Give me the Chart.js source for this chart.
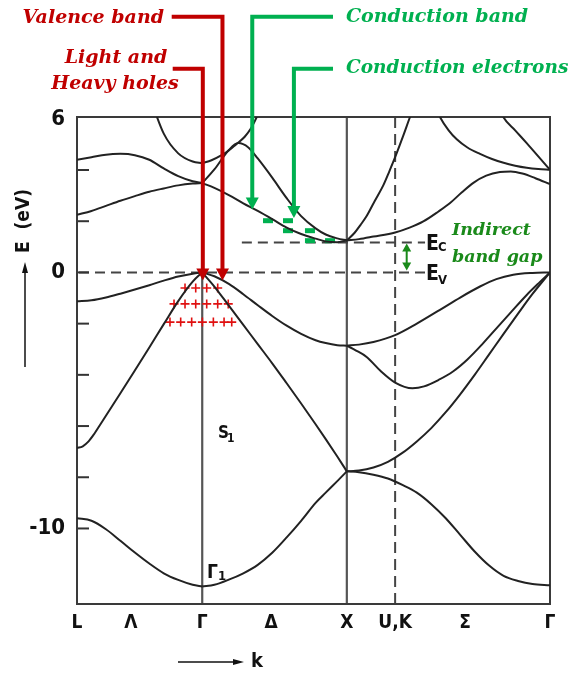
<!DOCTYPE html>
<html>
<head>
<meta charset="utf-8">
<script src="https://cdn.jsdelivr.net/npm/chart.js@4/dist/chart.umd.min.js"></script>
<style>
  html, body { margin: 0; padding: 0; background: #fff; }
  canvas { display: block; }
</style>
</head>
<body>
<canvas id="bands" width="569" height="676"></canvas>
<script>
// ---- k path (units of 2π/a) and axis labels ----
const kSymPoints   = [0, 0.866, 1.866, 2.2, 3.271];          // L, Γ, X, U/K, Γ
const kTickValues  = [0, 0.373, 0.866, 1.342, 1.866, 2.2, 2.683, 3.271];
const kTickLabels  = ['L', 'Λ', 'Γ', 'Δ', 'X', 'U,K', 'Σ', 'Γ'];
const eTickValues  = [6, 0, -10];
const eTickLabels  = ['6', '0', '-10'];
const eMinorTicks  = [4, 2, 0, -2, -4, -6, -8, -10];
const eValenceTop  = 0;      // E_V (eV)
const eCondBottom  = 1.17;   // E_C (eV)

// ---- bands along L → Γ (Λ) : [k, E] ----
const lambdaBand1 = [[0,-9.6],[0.1,-9.7],[0.2,-10.03],[0.3,-10.48],[0.4,-10.94],[0.5,-11.37],[0.6,-11.75],[0.7,-12.01],[0.8,-12.2],[0.866,-12.27]];
const lambdaBand2 = [[0,-6.86],[0.04,-6.79],[0.08,-6.6],[0.12,-6.3],[0.16,-5.95],[0.2,-5.6],[0.3,-4.72],[0.4,-3.83],[0.5,-2.93],[0.6,-2.02],[0.7,-1.12],[0.8,-0.36],[0.866,0]];
const lambdaBand3 = [[0,-1.13],[0.1,-1.09],[0.2,-0.98],[0.3,-0.83],[0.4,-0.67],[0.5,-0.5],[0.6,-0.32],[0.7,-0.16],[0.8,-0.05],[0.866,0]];
const lambdaBand4 = [[0,2.25],[0.1,2.4],[0.2,2.6],[0.3,2.8],[0.4,2.98],[0.5,3.15],[0.6,3.28],[0.7,3.4],[0.8,3.47],[0.866,3.49]];
const lambdaBand5 = [[0,4.4],[0.1,4.5],[0.2,4.6],[0.3,4.63],[0.4,4.58],[0.5,4.4],[0.6,4.06],[0.7,3.76],[0.8,3.56],[0.866,3.49]];
const lambdaBand6 = [[0.5,6.9],[0.6,5.42],[0.7,4.65],[0.8,4.33],[0.866,4.27]];

// ---- bands along Γ → X (Δ) ----
const deltaBand1 = [[0.866,-12.27],[0.95,-12.2],[1.05,-12.0],[1.15,-11.75],[1.25,-11.42],[1.35,-10.95],[1.45,-10.35],[1.55,-9.7],[1.65,-9.0],[1.72,-8.6],[1.8,-8.15],[1.866,-7.77]];
const deltaBand2 = [[0.866,0],[0.95,-0.55],[1.05,-1.3],[1.15,-2.05],[1.25,-2.8],[1.35,-3.55],[1.45,-4.33],[1.55,-5.12],[1.65,-5.93],[1.72,-6.51],[1.8,-7.19],[1.866,-7.77]];
const deltaBand3 = [[0.866,0],[0.95,-0.15],[1.05,-0.45],[1.15,-0.85],[1.25,-1.28],[1.35,-1.7],[1.45,-2.08],[1.55,-2.4],[1.65,-2.65],[1.72,-2.76],[1.8,-2.84],[1.866,-2.86]];
const deltaBand4 = [[0.866,3.49],[0.95,3.3],[1.05,3.02],[1.15,2.7],[1.25,2.4],[1.35,2.08],[1.45,1.75],[1.55,1.5],[1.65,1.32],[1.72,1.21],[1.8,1.18],[1.866,1.25]];
const deltaBand5 = [[0.866,3.49],[0.95,4.02],[1.05,4.78],[1.115,5.05],[1.185,4.88],[1.25,4.45],[1.35,3.7],[1.45,2.9],[1.55,2.2],[1.65,1.72],[1.72,1.48],[1.8,1.33],[1.866,1.25]];
const deltaBand6 = [[0.866,4.27],[0.93,4.38],[1.0,4.58],[1.05,4.76],[1.1,5.0],[1.16,5.3],[1.2,5.6],[1.243,6.07],[1.29,6.7]];

// ---- bands along X → U,K → Γ (Σ) ----
const sigmaBand1 = [[1.866,-7.77],[1.95,-7.8],[2.05,-7.9],[2.15,-8.05],[2.25,-8.3],[2.35,-8.6],[2.45,-9.05],[2.55,-9.6],[2.65,-10.25],[2.75,-10.9],[2.85,-11.45],[2.95,-11.85],[3.05,-12.05],[3.15,-12.17],[3.271,-12.22]];
const sigmaBand2 = [[1.866,-7.77],[1.95,-7.74],[2.05,-7.62],[2.15,-7.4],[2.25,-7.05],[2.35,-6.6],[2.45,-6.08],[2.55,-5.46],[2.65,-4.76],[2.75,-4.0],[2.85,-3.2],[2.95,-2.4],[3.05,-1.61],[3.15,-0.84],[3.271,0]];
const sigmaBand3 = [[1.866,-2.86],[1.93,-3.05],[2.003,-3.3],[2.1,-3.85],[2.2,-4.3],[2.32,-4.52],[2.4,-4.45],[2.5,-4.2],[2.6,-3.87],[2.7,-3.4],[2.8,-2.82],[2.86,-2.44],[2.93,-2.0],[3.0,-1.56],[3.11,-0.88],[3.2,-0.38],[3.271,0]];
const sigmaBand4 = [[1.866,-2.86],[1.95,-2.82],[2.05,-2.72],[2.2,-2.45],[2.35,-2.0],[2.51,-1.46],[2.65,-0.98],[2.787,-0.55],[2.9,-0.26],[3.017,-0.09],[3.15,-0.02],[3.271,0]];
const sigmaBand5 = [[1.866,1.25],[1.95,1.3],[2.05,1.4],[2.2,1.56],[2.3,1.75],[2.395,1.99],[2.5,2.38],[2.58,2.71],[2.66,3.12],[2.741,3.5],[2.83,3.78],[2.925,3.92],[3.0,3.94],[3.08,3.86],[3.17,3.68],[3.271,3.45]];
const sigmaBand6 = [[1.866,1.25],[1.92,1.55],[1.96,1.85],[2.003,2.2],[2.06,2.8],[2.118,3.4],[2.16,3.95],[2.2,4.5],[2.257,5.35],[2.303,6.07],[2.35,6.75]];
const sigmaBand7 = [[2.47,6.6],[2.51,6.07],[2.57,5.55],[2.626,5.2],[2.7,4.88],[2.787,4.63],[2.87,4.43],[2.95,4.28],[3.03,4.17],[3.11,4.09],[3.19,4.04],[3.271,4.01]];
const sigmaBand8 = [[2.92,6.45],[2.948,6.07],[3.03,5.55],[3.11,5.05],[3.19,4.53],[3.271,4.01]];

// ---- carriers: holes near the valence maximum, electrons near the conduction minimum ----
const holeK     = [0.747,0.821,0.897,0.973, 0.671,0.747,0.821,0.897,0.973,1.046, 0.643,0.717,0.793,0.867,0.943,1.017,1.07];
const holeE     = [-0.61,-0.61,-0.61,-0.61, -1.23,-1.23,-1.23,-1.23,-1.23,-1.23, -1.94,-1.94,-1.94,-1.94,-1.94,-1.94,-1.94];
const electronK = [1.321, 1.459, 1.459, 1.611, 1.611, 1.75];
const electronE = [2.02, 2.02, 1.63, 1.63, 1.24, 1.24];

// ---- callout targets [k, E] ----
const valenceArrowTip   = [1.006, -0.32];
const holesArrowTip     = [0.87, -0.32];
const condBandArrowTip  = [1.212, 2.46];
const condElecArrowTip  = [1.50, 2.13];
const gapArrowK         = 2.28;
const ecLineStartK      = 1.14;
const levelLabelK       = 2.407;

const allBands = [
  lambdaBand1, lambdaBand2, lambdaBand3, lambdaBand4, lambdaBand5, lambdaBand6,
  deltaBand1, deltaBand2, deltaBand3, deltaBand4, deltaBand5, deltaBand6,
  sigmaBand1, sigmaBand2, sigmaBand3, sigmaBand4, sigmaBand5, sigmaBand6, sigmaBand7, sigmaBand8
];

const RED = '#c00000', GREEN = '#00b050', DARK_GREEN = '#1a8a1a', INK = '#222';
const NARROW = '"Liberation Sans Narrow", "DejaVu Sans Condensed", "Arial Narrow", sans-serif';
const SERIF = '"DejaVu Serif", "Liberation Serif", serif';

const datasets = allBands.map(b => ({
  data: b.map(([k, e]) => ({ x: k, y: e })),
  showLine: true,
  borderColor: INK,
  borderWidth: 2,
  pointRadius: 0,
  cubicInterpolationMode: 'monotone',
  fill: false
}));
datasets.push({
  data: holeK.map((k, i) => ({ x: k, y: holeE[i] })),
  showLine: false,
  pointStyle: 'cross',
  pointRadius: 4.5,
  pointBorderWidth: 1.6,
  borderColor: '#e01010',
  backgroundColor: '#e01010'
});
datasets.push({
  data: electronK.map((k, i) => ({ x: k, y: electronE[i] })),
  showLine: false,
  pointStyle: 'line',
  pointRadius: 5,
  pointBorderWidth: 5,
  borderColor: GREEN,
  backgroundColor: GREEN
});

function seg(ctx, x1, y1, x2, y2) {
  ctx.beginPath(); ctx.moveTo(x1, y1); ctx.lineTo(x2, y2); ctx.stroke();
}
function head(ctx, x, y, dir, w, h) {
  // filled arrowhead with its tip at (x, y); dir: 'down', 'up', 'right'
  ctx.beginPath();
  if (dir === 'down') { ctx.moveTo(x, y); ctx.lineTo(x - w / 2, y - h); ctx.lineTo(x + w / 2, y - h); }
  else if (dir === 'up') { ctx.moveTo(x, y); ctx.lineTo(x - w / 2, y + h); ctx.lineTo(x + w / 2, y + h); }
  else { ctx.moveTo(x, y); ctx.lineTo(x - h, y - w / 2); ctx.lineTo(x - h, y + w / 2); }
  ctx.closePath(); ctx.fill();
}

// Frame, symmetry lines, E_V / E_C levels and inward ticks
const framePlugin = {
  id: 'frame',
  beforeDatasetsDraw(chart) {
    const { ctx, chartArea: a, scales: { x, y } } = chart;
    ctx.save();
    ctx.lineCap = 'butt';
    ctx.strokeStyle = '#555';
    ctx.lineWidth = 2.2;
    [kSymPoints[1], kSymPoints[2]].forEach(k => {
      const px = x.getPixelForValue(k);
      seg(ctx, px, a.top, px, a.bottom);
    });
    ctx.strokeStyle = '#444';
    ctx.lineWidth = 2;
    ctx.setLineDash([11, 6]);
    const uk = x.getPixelForValue(kSymPoints[3]);
    seg(ctx, uk, a.top, uk, a.bottom);
    ctx.setLineDash([10, 6]);
    const lblX = x.getPixelForValue(levelLabelK);
    const yv = y.getPixelForValue(eValenceTop);
    const yc = y.getPixelForValue(eCondBottom);
    seg(ctx, a.left + 2, yv, lblX, yv);
    seg(ctx, x.getPixelForValue(ecLineStartK), yc, lblX, yc);
    ctx.setLineDash([]);
    ctx.strokeStyle = '#333';
    ctx.lineWidth = 2;
    eMinorTicks.forEach(e => {
      const py = y.getPixelForValue(e);
      seg(ctx, a.left, py, a.left + 12, py);
    });
    ctx.strokeStyle = '#3a3a3a';
    ctx.lineWidth = 2;
    ctx.strokeRect(a.left, a.top, a.right - a.left, a.bottom - a.top);
    ctx.restore();
  }
};

// Callouts, level labels and axis captions
const notesPlugin = {
  id: 'notes',
  afterDraw(chart) {
    const { ctx, scales: { x, y } } = chart;
    const P = ([k, e]) => [x.getPixelForValue(k), y.getPixelForValue(e)];
    ctx.save();

    // red callouts
    ctx.strokeStyle = RED; ctx.fillStyle = RED; ctx.lineWidth = 4; ctx.lineJoin = 'miter';
    [[valenceArrowTip, 16.7, 171.7], [holesArrowTip, 68.7, 172.7]].forEach(([tip, hy, hx]) => {
      const [tx, ty] = P(tip);
      ctx.beginPath(); ctx.moveTo(hx, hy); ctx.lineTo(tx, hy); ctx.lineTo(tx, ty - 10); ctx.stroke();
      head(ctx, tx, ty, 'down', 13, 12);
    });
    // green callouts
    ctx.strokeStyle = GREEN; ctx.fillStyle = GREEN;
    [[condBandArrowTip, 16.7], [condElecArrowTip, 68.7]].forEach(([tip, hy]) => {
      const [tx, ty] = P(tip);
      ctx.beginPath(); ctx.moveTo(333, hy); ctx.lineTo(tx, hy); ctx.lineTo(tx, ty - 10); ctx.stroke();
      head(ctx, tx, ty, 'down', 13, 12);
    });

    // callout texts
    ctx.textBaseline = 'middle';
    ctx.font = `italic bold 19px ${SERIF}`;
    ctx.fillStyle = RED;
    ctx.textAlign = 'right';
    ctx.fillText('Valence band', 164, 18);
    ctx.textAlign = 'center';
    ctx.fillText('Light and', 116, 58);
    ctx.fillText('Heavy holes', 115, 84);
    ctx.fillStyle = GREEN;
    ctx.textAlign = 'left';
    ctx.fillText('Conduction band', 346, 17);
    ctx.font = `italic bold 18.5px ${SERIF}`;
    ctx.fillText('Conduction electrons', 346, 68);

    // indirect gap arrow
    const gx = x.getPixelForValue(gapArrowK);
    const yv = y.getPixelForValue(eValenceTop);
    const yc = y.getPixelForValue(eCondBottom);
    ctx.strokeStyle = DARK_GREEN; ctx.fillStyle = DARK_GREEN; ctx.lineWidth = 2;
    seg(ctx, gx, yc + 6, gx, yv - 6);
    head(ctx, gx, yc + 1, 'up', 9, 8);
    head(ctx, gx, yv - 2, 'down', 9, 8);
    ctx.font = `italic bold 17.5px ${SERIF}`;
    ctx.fillText('Indirect', 452, 230);
    ctx.fillText('band gap', 452, 257);

    // E_C / E_V labels
    const lx = x.getPixelForValue(levelLabelK) + 1;
    ctx.fillStyle = '#111';
    [[yc, 'C'], [yv, 'V']].forEach(([ly, sub]) => {
      ctx.font = `bold 21px ${NARROW}`;
      ctx.fillText('E', lx, ly + 2);
      const w = ctx.measureText('E').width;
      ctx.font = `bold 13px ${NARROW}`;
      ctx.fillText(sub, lx + w - 1, ly + (sub === 'V' ? 8 : 5));
    });

    // state labels
    ctx.font = `bold 17px ${NARROW}`;
    ctx.fillText('S', 218, 434);
    ctx.font = `bold 12px ${NARROW}`;
    ctx.fillText('1', 227, 439);
    ctx.font = `bold 19px ${NARROW}`;
    ctx.fillText('Γ', 207, 573);
    ctx.font = `bold 13px ${NARROW}`;
    ctx.fillText('1', 218, 577);

    // axis captions
    ctx.fillStyle = '#111'; ctx.strokeStyle = '#111'; ctx.lineWidth = 1.5;
    ctx.save();
    ctx.translate(24, 221);
    ctx.rotate(-Math.PI / 2);
    ctx.textAlign = 'center';
    ctx.font = `bold 19px ${NARROW}`;
    ctx.fillText('E  (eV)', 0, 0);
    ctx.restore();
    seg(ctx, 25, 367, 25, 270);
    head(ctx, 25, 262, 'up', 6, 11);

    seg(ctx, 178, 662, 236, 662);
    head(ctx, 244, 662, 'right', 6, 11);
    ctx.textAlign = 'left';
    ctx.font = `bold 20px ${NARROW}`;
    ctx.fillText('k', 251, 662);
    ctx.restore();
  }
};

new Chart(document.getElementById('bands'), {
  type: 'scatter',
  data: { datasets },
  options: {
    responsive: false,
    animation: false,
    events: [],
    layout: { padding: { top: 117, right: 19, left: 0, bottom: 0 } },
    plugins: { legend: { display: false }, tooltip: { enabled: false } },
    scales: {
      x: {
        type: 'linear',
        min: kSymPoints[0],
        max: kSymPoints[4],
        afterBuildTicks: axis => { axis.ticks = kTickValues.map(v => ({ value: v })); },
        afterFit: axis => { axis.height = 72; },
        grid: { display: false },
        border: { display: false },
        ticks: {
          autoSkip: false, maxRotation: 0, padding: 0,
          color: '#111',
          font: { family: NARROW, size: 19, weight: 'bold' },
          callback: (v, i) => kTickLabels[i]
        }
      },
      y: {
        type: 'linear',
        min: -12.95,
        max: 6.07,
        afterBuildTicks: axis => { axis.ticks = eTickValues.map(v => ({ value: v })); },
        afterFit: axis => { axis.width = 77; },
        grid: { display: false },
        border: { display: false },
        ticks: {
          padding: 4,
          color: '#111',
          font: { family: NARROW, size: 22, weight: 'bold' },
          callback: (v, i) => eTickLabels[i]
        }
      }
    }
  },
  plugins: [framePlugin, notesPlugin]
});
</script>
</body>
</html>
